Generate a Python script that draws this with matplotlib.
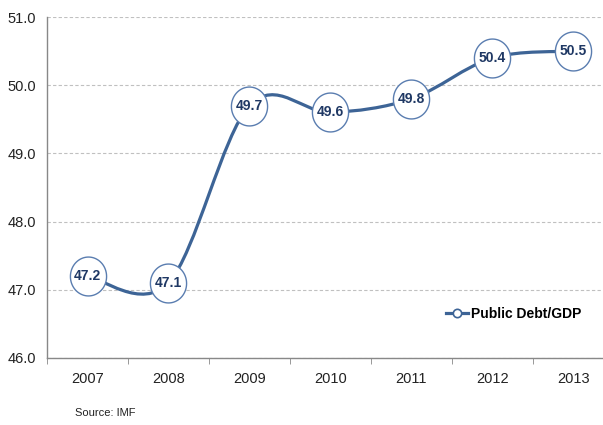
import matplotlib.pyplot as plt
import numpy as np
from matplotlib.path import Path
from matplotlib.patches import PathPatch

plt.rcParams['font.family'] = ['Liberation Sans', 'DejaVu Sans']

years = ['2007', '2008', '2009', '2010', '2011', '2012', '2013']
debt = [47.2, 47.1, 49.7, 49.6, 49.8, 50.4, 50.5]
yticks = [46.0, 47.0, 48.0, 49.0, 50.0, 51.0]

line_col = '#3d6496'
text_col = '#1f3864'

fig = plt.figure(figsize=(6.03, 4.25), dpi=100)
ax = fig.add_axes([0.078, 0.158, 0.94, 0.802])

x = np.arange(len(years), dtype=float)
y = np.array(debt)

# smoothed line like the spreadsheet (cardinal spline as bezier segments)
verts = [(x[0], y[0])]
codes = [Path.MOVETO]
n = len(x)
for i in range(n - 1):
    p0 = np.array([x[max(i - 1, 0)], y[max(i - 1, 0)]])
    p1 = np.array([x[i], y[i]])
    p2 = np.array([x[i + 1], y[i + 1]])
    p3 = np.array([x[min(i + 2, n - 1)], y[min(i + 2, n - 1)]])
    c1 = p1 + (p2 - p0) / 6
    c2 = p2 - (p3 - p1) / 6
    verts += [tuple(c1), tuple(c2), tuple(p2)]
    codes += [Path.CURVE4] * 3
ax.add_patch(PathPatch(Path(verts, codes), fill=False, edgecolor=line_col,
                       lw=2.3, capstyle='round', zorder=3))

# slightly tall oval marker
t = np.linspace(0, 2 * np.pi, 80)
oval = Path(np.column_stack([0.93 * np.cos(t), np.sin(t)]), closed=True)
ax.plot(x, y, linestyle='none', marker=oval, markersize=28, mfc='white',
        mec='#5a7db0', mew=1.0, zorder=4)
for xi, yi in zip(x, y):
    ax.text(xi, yi, f'{yi:.1f}', ha='center', va='center', fontsize=10,
            fontweight='bold', color=text_col, zorder=5)

ax.plot([], [], color=line_col, lw=2.3, marker='o', markersize=6,
        mfc='white', mec=line_col, mew=1.2, label='Public Debt/GDP')
ax.legend(loc='lower right', bbox_to_anchor=(0.985, 0.215),
          bbox_transform=fig.transFigure, frameon=False,
          handlelength=1.6, handletextpad=0.2,
          prop={'weight': 'bold', 'size': 10})

ax.set_xlim(-0.5, 6.5)
ax.set_ylim(46, 51)
ax.set_yticks(yticks)
ax.set_yticklabels([f'{v:.1f}' for v in yticks], fontsize=10.5, color='#222222')
ax.set_xticks(x)
ax.set_xticklabels(years, fontsize=10.5, color='#222222')
ax.set_xticks(np.arange(-0.5, 7, 1.0), minor=True)
ax.tick_params(axis='x', which='major', length=0, pad=10)
ax.tick_params(axis='x', which='minor', length=4, color='#888888')
ax.tick_params(axis='y', length=0, pad=8)

ax.grid(axis='y', linestyle=(0, (3, 2)), color='#c0c0c0', lw=0.8)
ax.set_axisbelow(True)
for s in ['top', 'right']:
    ax.spines[s].set_visible(False)
for s in ['left', 'bottom']:
    ax.spines[s].set_color('#888888')
    ax.spines[s].set_linewidth(1.0)

fig.text(0.124, 0.02, 'Source: IMF', fontsize=8, color='#222222')

fig.savefig('out.png', dpi=100)
